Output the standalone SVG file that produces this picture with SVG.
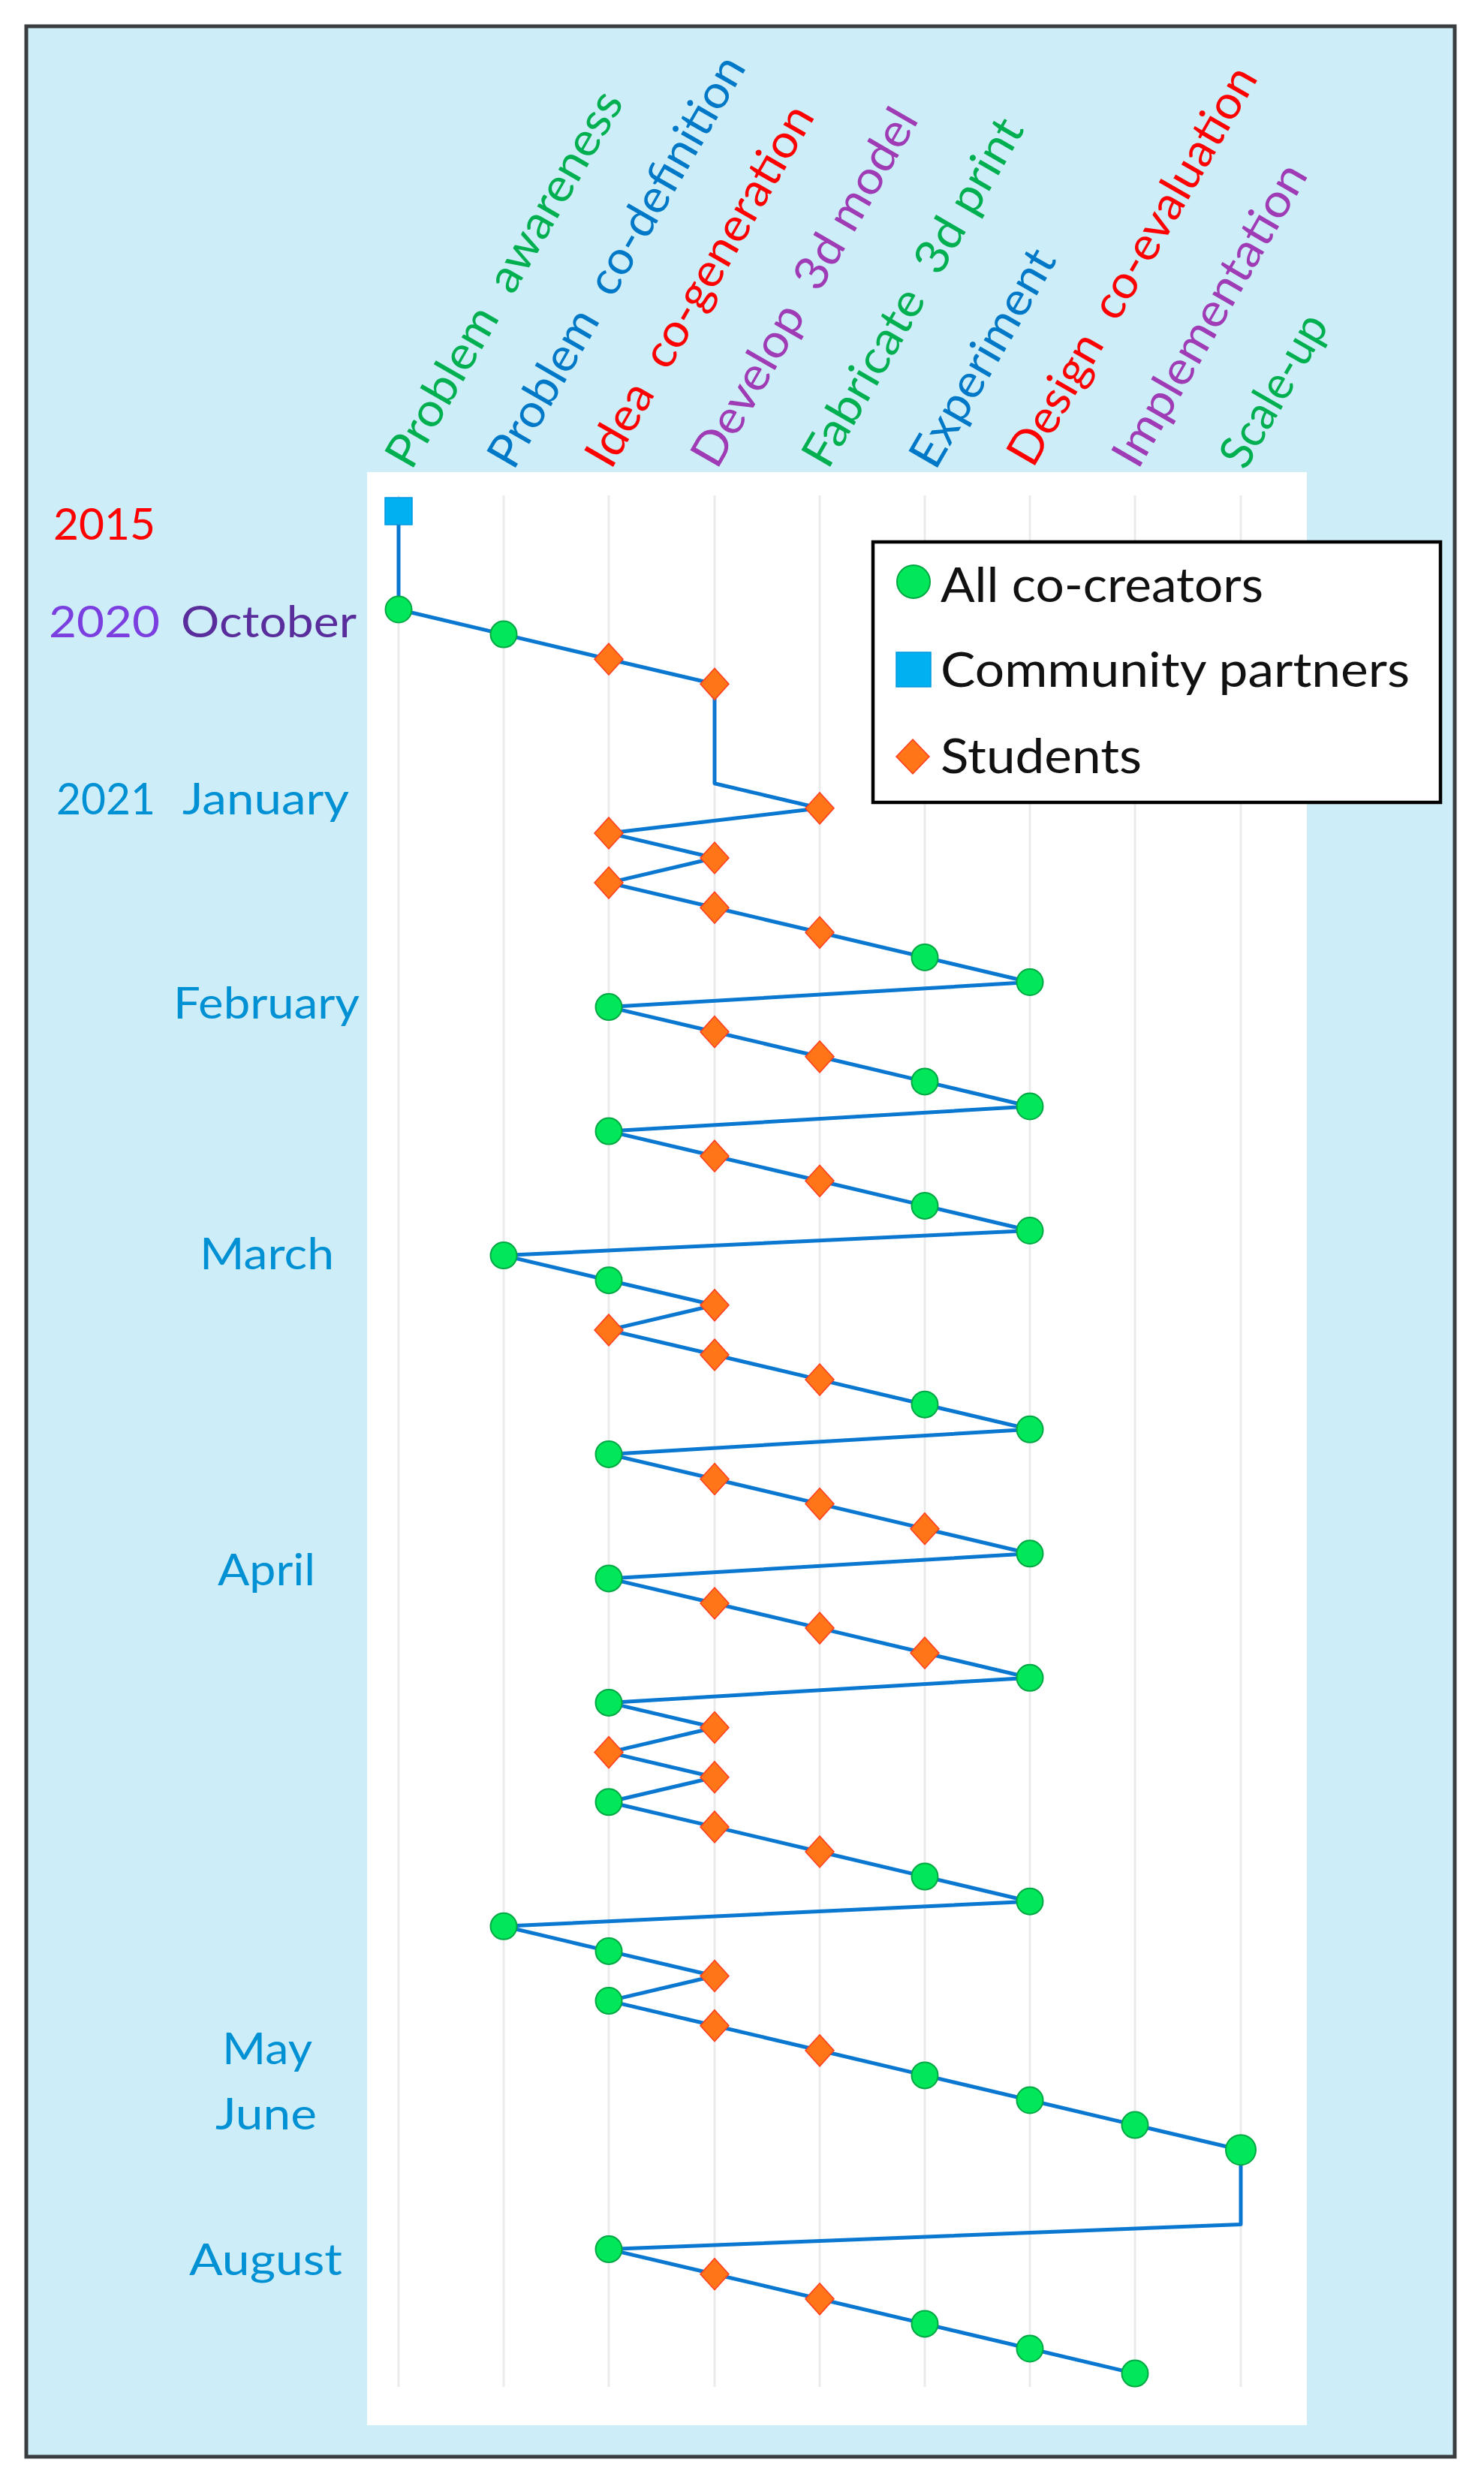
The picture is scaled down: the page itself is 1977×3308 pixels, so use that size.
<svg xmlns="http://www.w3.org/2000/svg" xmlns:xlink="http://www.w3.org/1999/xlink" width="1977" height="3308" viewBox="0 0 1977 3308">
<style>
text{font-family:Lato,"Open Sans","Noto Sans",sans-serif;}
.hd{font-size:62px;white-space:pre;}
.lb{font-size:58px;white-space:pre;}
.lg{font-size:64px;fill:#111;}
.green{fill:#00B050;}
.blue{fill:#0078C8;}
.red{fill:#FF0000;}
.purple{fill:#9E3BB5;}
.mon{fill:#0090D4;}
.grid{stroke:#EBEBEB;stroke-width:3;}
.conn{fill:none;stroke:#0A78D0;stroke-width:5;stroke-linejoin:round;}
.c{fill:#00E85A;stroke:#00A844;stroke-width:2;}
.d{fill:#FF7518;stroke:#FF3D1F;stroke-width:1.5;}
.s{fill:#00B0F0;stroke:#0098E0;stroke-width:1.5;}
</style>
<defs>
<circle id="mc" r="17.5"/>
<path id="md" d="M0,-21 L19,0 L0,21 L-19,0 Z"/>
<rect id="ms" x="-18" y="-18" width="36" height="36"/>
</defs>
<rect x="0" y="0" width="1977" height="3308" fill="#FFFFFF"/>
<rect x="35" y="35" width="1903" height="3238" fill="#CDEEF8" stroke="#3A3D40" stroke-width="5"/>
<rect x="489" y="629" width="1252" height="2602" fill="#FFFFFF"/>
<g id="gridlines">
<line class="grid" x1="531" y1="660" x2="531" y2="3180"/>
<line class="grid" x1="671" y1="660" x2="671" y2="3180"/>
<line class="grid" x1="811" y1="660" x2="811" y2="3180"/>
<line class="grid" x1="952" y1="660" x2="952" y2="3180"/>
<line class="grid" x1="1092" y1="660" x2="1092" y2="3180"/>
<line class="grid" x1="1232" y1="660" x2="1232" y2="3180"/>
<line class="grid" x1="1372" y1="660" x2="1372" y2="3180"/>
<line class="grid" x1="1512" y1="660" x2="1512" y2="3180"/>
<line class="grid" x1="1653" y1="660" x2="1653" y2="3180"/>
</g>
<g id="headers">
<text class="hd green" transform="translate(548,628) rotate(-60)" textLength="568" lengthAdjust="spacingAndGlyphs">Problem  awareness</text>
<text class="hd blue" transform="translate(684,628) rotate(-60)" textLength="622" lengthAdjust="spacingAndGlyphs">Problem  co-definition</text>
<text class="hd red" transform="translate(814,627) rotate(-60)" textLength="545" lengthAdjust="spacingAndGlyphs">Idea  co-generation</text>
<text class="hd purple" transform="translate(955,627) rotate(-60)" textLength="540" lengthAdjust="spacingAndGlyphs">Develop  3d model</text>
<text class="hd green" transform="translate(1103,627) rotate(-60)" textLength="525" lengthAdjust="spacingAndGlyphs">Fabricate  3d print</text>
<text class="hd blue" transform="translate(1246,628) rotate(-60)" textLength="325" lengthAdjust="spacingAndGlyphs">Experiment</text>
<text class="hd red" transform="translate(1376,625) rotate(-60)" textLength="602" lengthAdjust="spacingAndGlyphs">Design  co-evaluation</text>
<text class="hd purple" transform="translate(1516,627) rotate(-60)" textLength="455" lengthAdjust="spacingAndGlyphs">Implementation</text>
<text class="hd green" transform="translate(1659,628) rotate(-60)" textLength="225" lengthAdjust="spacingAndGlyphs">Scale-up</text>
</g>
<g id="timeline-labels">
<text class="lb red" x="71" y="719" textLength="136" lengthAdjust="spacingAndGlyphs">2015</text>
<text class="lb" x="65" y="849" fill="#7B3FE0" textLength="148" lengthAdjust="spacingAndGlyphs">2020</text>
<text class="lb" x="241" y="849" fill="#5A2D9C" textLength="234" lengthAdjust="spacingAndGlyphs">October</text>
<text class="lb mon" x="75" y="1085" textLength="132" lengthAdjust="spacingAndGlyphs">2021</text>
<text class="lb mon" x="243" y="1085" textLength="222" lengthAdjust="spacingAndGlyphs">January</text>
<text class="lb mon" x="231" y="1357" textLength="248" lengthAdjust="spacingAndGlyphs">February</text>
<text class="lb mon" x="266" y="1691" textLength="179" lengthAdjust="spacingAndGlyphs">March</text>
<text class="lb mon" x="290" y="2112" textLength="130" lengthAdjust="spacingAndGlyphs">April</text>
<text class="lb mon" x="296" y="2750" textLength="120" lengthAdjust="spacingAndGlyphs">May</text>
<text class="lb mon" x="287" y="2837" textLength="135" lengthAdjust="spacingAndGlyphs">June</text>
<text class="lb mon" x="252" y="3031" textLength="204" lengthAdjust="spacingAndGlyphs">August</text>
</g>
<g id="connectors">
<polyline class="conn" points="531,681 531,812 671,845.1 811,878.2 952,911.3 952,1043.7 1092,1076.8 811,1109.9 952,1143 811,1176.1 952,1209.2 1092,1242.3 1232,1275.4 1372,1308.5 811,1341.6 952,1374.7 1092,1407.8 1232,1440.9 1372,1474 811,1507.1 952,1540.2 1092,1573.3 1232,1606.4 1372,1639.5 671,1672.6 811,1705.7 952,1738.8 811,1771.9 952,1805 1092,1838.1 1232,1871.2 1372,1904.3 811,1937.4 952,1970.5 1092,2003.6 1232,2036.7 1372,2069.8 811,2102.9 952,2136 1092,2169.1 1232,2202.2 1372,2235.3 811,2268.4 952,2301.5 811,2334.6 952,2367.7 811,2400.8 952,2433.9 1092,2467 1232,2500.1 1372,2533.2 671,2566.3 811,2599.4 952,2632.5 811,2665.6 952,2698.7 1092,2731.8 1232,2764.9 1372,2798 1512,2831.1 1653,2864.2 1653,2963.5 811,2996.6 952,3029.7 1092,3062.8 1232,3095.9 1372,3129 1512,3162.1"/>
</g>
<g id="nodes">
<g id="n00"><use href="#ms" class="s" x="531" y="681"/></g>
<g id="n01"><use href="#mc" class="c" x="531" y="812"/></g>
<g id="n02"><use href="#mc" class="c" x="671" y="845.1"/></g>
<g id="n03"><use href="#md" class="d" x="811" y="878.2"/></g>
<g id="n04"><use href="#md" class="d" x="952" y="911.3"/></g>
<g id="n05"><use href="#md" class="d" x="1092" y="1076.8"/></g>
<g id="n06"><use href="#md" class="d" x="811" y="1109.9"/></g>
<g id="n07"><use href="#md" class="d" x="952" y="1143"/></g>
<g id="n08"><use href="#md" class="d" x="811" y="1176.1"/></g>
<g id="n09"><use href="#md" class="d" x="952" y="1209.2"/></g>
<g id="n10"><use href="#md" class="d" x="1092" y="1242.3"/></g>
<g id="n11"><use href="#mc" class="c" x="1232" y="1275.4"/></g>
<g id="n12"><use href="#mc" class="c" x="1372" y="1308.5"/></g>
<g id="n13"><use href="#mc" class="c" x="811" y="1341.6"/></g>
<g id="n14"><use href="#md" class="d" x="952" y="1374.7"/></g>
<g id="n15"><use href="#md" class="d" x="1092" y="1407.8"/></g>
<g id="n16"><use href="#mc" class="c" x="1232" y="1440.9"/></g>
<g id="n17"><use href="#mc" class="c" x="1372" y="1474"/></g>
<g id="n18"><use href="#mc" class="c" x="811" y="1507.1"/></g>
<g id="n19"><use href="#md" class="d" x="952" y="1540.2"/></g>
<g id="n20"><use href="#md" class="d" x="1092" y="1573.3"/></g>
<g id="n21"><use href="#mc" class="c" x="1232" y="1606.4"/></g>
<g id="n22"><use href="#mc" class="c" x="1372" y="1639.5"/></g>
<g id="n23"><use href="#mc" class="c" x="671" y="1672.6"/></g>
<g id="n24"><use href="#mc" class="c" x="811" y="1705.7"/></g>
<g id="n25"><use href="#md" class="d" x="952" y="1738.8"/></g>
<g id="n26"><use href="#md" class="d" x="811" y="1771.9"/></g>
<g id="n27"><use href="#md" class="d" x="952" y="1805"/></g>
<g id="n28"><use href="#md" class="d" x="1092" y="1838.1"/></g>
<g id="n29"><use href="#mc" class="c" x="1232" y="1871.2"/></g>
<g id="n30"><use href="#mc" class="c" x="1372" y="1904.3"/></g>
<g id="n31"><use href="#mc" class="c" x="811" y="1937.4"/></g>
<g id="n32"><use href="#md" class="d" x="952" y="1970.5"/></g>
<g id="n33"><use href="#md" class="d" x="1092" y="2003.6"/></g>
<g id="n34"><use href="#md" class="d" x="1232" y="2036.7"/></g>
<g id="n35"><use href="#mc" class="c" x="1372" y="2069.8"/></g>
<g id="n36"><use href="#mc" class="c" x="811" y="2102.9"/></g>
<g id="n37"><use href="#md" class="d" x="952" y="2136"/></g>
<g id="n38"><use href="#md" class="d" x="1092" y="2169.1"/></g>
<g id="n39"><use href="#md" class="d" x="1232" y="2202.2"/></g>
<g id="n40"><use href="#mc" class="c" x="1372" y="2235.3"/></g>
<g id="n41"><use href="#mc" class="c" x="811" y="2268.4"/></g>
<g id="n42"><use href="#md" class="d" x="952" y="2301.5"/></g>
<g id="n43"><use href="#md" class="d" x="811" y="2334.6"/></g>
<g id="n44"><use href="#md" class="d" x="952" y="2367.7"/></g>
<g id="n45"><use href="#mc" class="c" x="811" y="2400.8"/></g>
<g id="n46"><use href="#md" class="d" x="952" y="2433.9"/></g>
<g id="n47"><use href="#md" class="d" x="1092" y="2467"/></g>
<g id="n48"><use href="#mc" class="c" x="1232" y="2500.1"/></g>
<g id="n49"><use href="#mc" class="c" x="1372" y="2533.2"/></g>
<g id="n50"><use href="#mc" class="c" x="671" y="2566.3"/></g>
<g id="n51"><use href="#mc" class="c" x="811" y="2599.4"/></g>
<g id="n52"><use href="#md" class="d" x="952" y="2632.5"/></g>
<g id="n53"><use href="#mc" class="c" x="811" y="2665.6"/></g>
<g id="n54"><use href="#md" class="d" x="952" y="2698.7"/></g>
<g id="n55"><use href="#md" class="d" x="1092" y="2731.8"/></g>
<g id="n56"><use href="#mc" class="c" x="1232" y="2764.9"/></g>
<g id="n57"><use href="#mc" class="c" x="1372" y="2798"/></g>
<g id="n58"><use href="#mc" class="c" x="1512" y="2831.1"/></g>
<g id="n59"><circle class="c" cx="1653" cy="2864.2" r="20"/></g>
<g id="n60"><use href="#mc" class="c" x="811" y="2996.6"/></g>
<g id="n61"><use href="#md" class="d" x="952" y="3029.7"/></g>
<g id="n62"><use href="#md" class="d" x="1092" y="3062.8"/></g>
<g id="n63"><use href="#mc" class="c" x="1232" y="3095.9"/></g>
<g id="n64"><use href="#mc" class="c" x="1372" y="3129"/></g>
<g id="n65"><use href="#mc" class="c" x="1512" y="3162.1"/></g>
</g>
<g id="legend">
<rect x="1163" y="722" width="756" height="347" fill="#FFFFFF" stroke="#000000" stroke-width="4.5"/>
<circle class="c" cx="1217" cy="775" r="22"/>
<text class="lg" x="1253" y="802" textLength="430" lengthAdjust="spacingAndGlyphs">All co-creators</text>
<rect class="s" x="1194" y="869" width="46" height="46"/>
<text class="lg" x="1253" y="915" textLength="625" lengthAdjust="spacingAndGlyphs">Community partners</text>
<path class="d" d="M1216,985 L1238,1008 L1216,1031 L1194,1008 Z"/>
<text class="lg" x="1253" y="1030" textLength="268" lengthAdjust="spacingAndGlyphs">Students</text>
</g>
</svg>
